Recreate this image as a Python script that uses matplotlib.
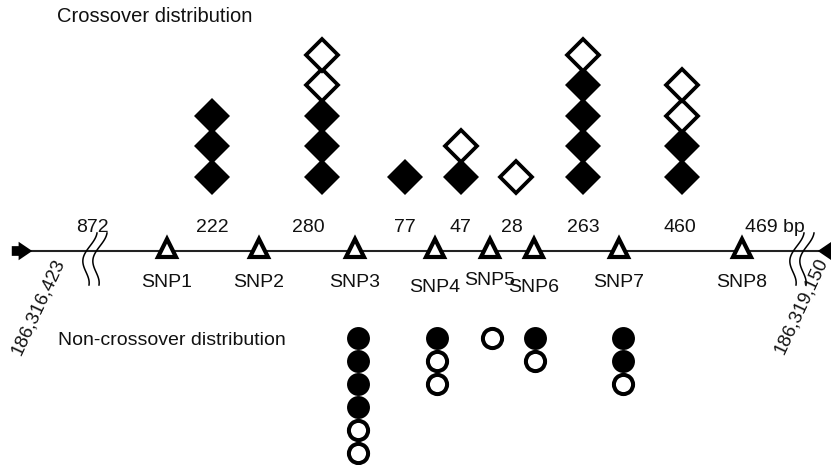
import numpy as np
import matplotlib.pyplot as plt

plt.rcParams['font.family'] = ['Liberation Sans', 'DejaVu Sans']

# SNP markers along the genomic line
snp_names = ['SNP1', 'SNP2', 'SNP3', 'SNP4', 'SNP5', 'SNP6', 'SNP7', 'SNP8']
snp_pos = [167, 259, 355, 435, 490, 534, 619, 742]

# interval lengths (bp) between markers
interval_labels = ['872', '222', '280', '77', '47', '28', '263', '460', '469 bp']
interval_x = [92, 212, 308, 405, 460, 512, 583, 680, 775]

# crossover counts per interval (filled / open diamonds)
co_x = [212, 322, 405, 461, 516, 583, 682]
co_filled = [3, 3, 1, 1, 0, 4, 2]
co_open = [0, 2, 0, 1, 1, 1, 2]

# non-crossover counts at SNPs (filled / open circles)
nco_x = [358, 437, 492, 535, 623]
nco_filled = [4, 1, 0, 1, 2]
nco_open = [2, 2, 1, 1, 1]

coord_left = '186,316,423'
coord_right = '186,319,150'

fig = plt.figure(figsize=(8.31, 4.65), dpi=100)
ax = fig.add_axes([0, 0, 1, 1])
ax.set_xlim(0, 831)
ax.set_ylim(465, 0)
ax.axis('off')

line_y = 251
ax.plot([20, 820], [line_y, line_y], color='#222222', lw=1.5, zorder=1)

# end arrows
arr = 'simple,head_length=0.7,head_width=0.95,tail_width=0.5'
ax.annotate('', xy=(35, line_y), xytext=(9, line_y),
            arrowprops=dict(arrowstyle=arr, color='black', lw=0, mutation_scale=14))
ax.annotate('', xy=(815, line_y), xytext=(842, line_y),
            arrowprops=dict(arrowstyle=arr, color='black', lw=0, mutation_scale=14),
            annotation_clip=False)

# break marks
t = np.linspace(0, 1, 60)
for bx in [88, 795]:
    for dx in [0, 10]:
        yy = 233 + 52 * t
        xx = bx + dx - 5 * np.sin(2 * np.pi * (t - 0.25)) - 8 * t + 4
        ax.plot(xx, yy, color='black', lw=1.1, zorder=2)

# SNP triangles + labels
ax.plot(snp_pos, [line_y - 3] * len(snp_pos), linestyle='none', marker='^',
        markersize=12.5, markerfacecolor='white', markeredgecolor='black',
        markeredgewidth=3.0, zorder=3)
label_dy = [0, 0, 0, 5, -2, 5, 0, 0]
for name, x, d in zip(snp_names, snp_pos, label_dy):
    ax.text(x, 282 + d, name, ha='center', va='center', fontsize=14, color='#111111')

for lab, x in zip(interval_labels, interval_x):
    ax.text(x, 227, lab, ha='center', va='center', fontsize=14, color='#111111')

# crossover diamonds
base_y, step = 177, 30.5
for x, nf, no in zip(co_x, co_filled, co_open):
    for i in range(nf + no):
        filled = i < nf
        ax.plot(x, base_y - i * step, marker='D',
                markersize=18 if filled else 16,
                markerfacecolor='black' if filled else 'white',
                markeredgecolor='black', markeredgewidth=0 if filled else 2.7,
                zorder=4 + i)

# non-crossover circles
top_y, cstep = 338, 23
for x, nf, no in zip(nco_x, nco_filled, nco_open):
    for i in range(nf + no):
        filled = i < nf
        ax.plot(x, top_y + i * cstep, marker='o',
                markersize=16.5 if filled else 13.8,
                markerfacecolor='black' if filled else 'white',
                markeredgecolor='black', markeredgewidth=0 if filled else 2.9,
                zorder=4)

ax.text(57, 17, 'Crossover distribution', ha='left', va='center', fontsize=14.5, color='#111111')
ax.text(58, 340, 'Non-crossover distribution', ha='left', va='center', fontsize=14, color='#111111')

ax.text(38, 307, coord_left, ha='center', va='center', rotation=65, fontsize=13.5, color='#111111')
ax.text(801, 306, coord_right, ha='center', va='center', rotation=65, fontsize=13.5, color='#111111')

fig.savefig('out.png', dpi=100)
